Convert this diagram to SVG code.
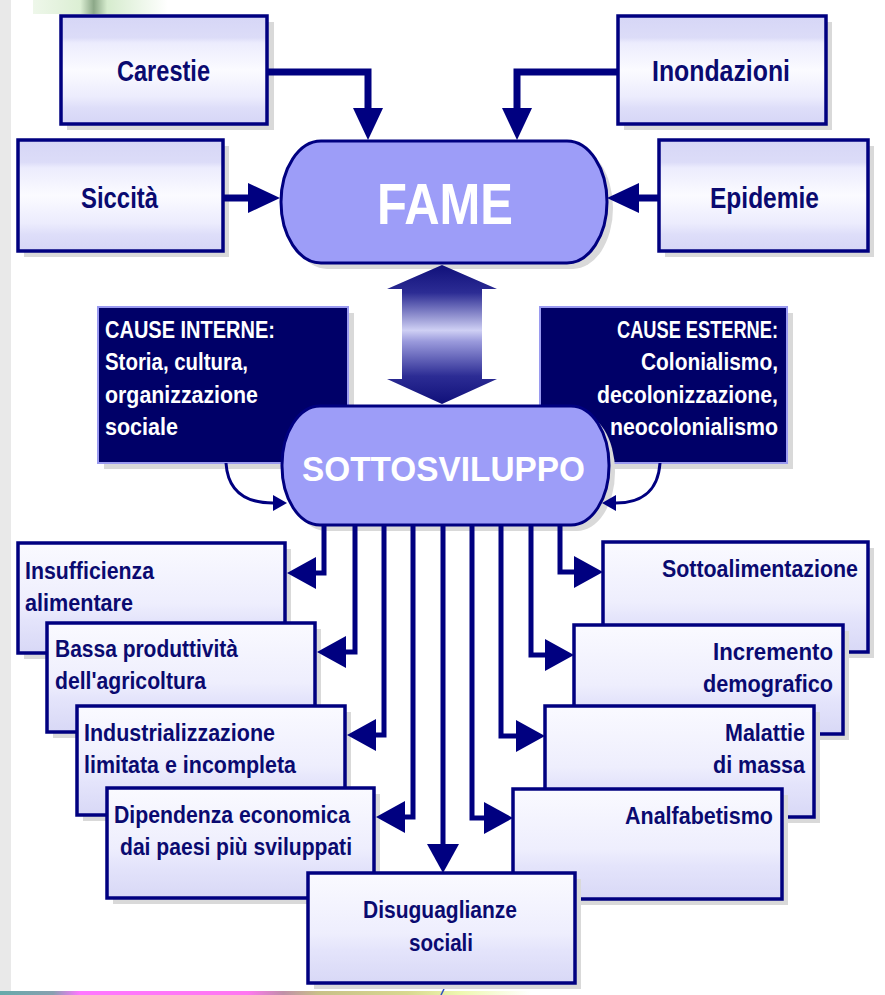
<svg xmlns="http://www.w3.org/2000/svg" width="885" height="995" viewBox="0 0 885 995">
  <defs>
    <linearGradient id="gTop" x1="0" y1="0" x2="0" y2="1">
      <stop offset="0" stop-color="#d6d6f6"/>
      <stop offset="0.2" stop-color="#dcdcf8"/>
      <stop offset="0.25" stop-color="#ececfd"/>
      <stop offset="0.5" stop-color="#fbfbff"/>
      <stop offset="0.75" stop-color="#ececfd"/>
      <stop offset="0.85" stop-color="#dedef9"/>
      <stop offset="1" stop-color="#d6d6f6"/>
    </linearGradient>
    <linearGradient id="gLow" x1="0" y1="0" x2="0" y2="1">
      <stop offset="0" stop-color="#fafaff"/>
      <stop offset="0.55" stop-color="#eeeefd"/>
      <stop offset="0.7" stop-color="#e4e4fb"/>
      <stop offset="1" stop-color="#d8d8f6"/>
    </linearGradient>
    <linearGradient id="gArrow" gradientUnits="userSpaceOnUse" x1="0" y1="265" x2="0" y2="404">
      <stop offset="0" stop-color="#10107a"/>
      <stop offset="0.2" stop-color="#2c2c94"/>
      <stop offset="0.47" stop-color="#cfd0f4"/>
      <stop offset="0.55" stop-color="#9a9adc"/>
      <stop offset="0.8" stop-color="#2c2c94"/>
      <stop offset="1" stop-color="#10107a"/>
    </linearGradient>
    <linearGradient id="gStrip" x1="0" y1="0" x2="1" y2="0">
      <stop offset="0" stop-color="#66aaaa"/>
      <stop offset="0.06" stop-color="#88a0b0"/>
      <stop offset="0.09" stop-color="#ff77ff"/>
      <stop offset="0.28" stop-color="#ff77f0"/>
      <stop offset="0.32" stop-color="#c090a8"/>
      <stop offset="0.36" stop-color="#c8c088"/>
      <stop offset="0.46" stop-color="#d8d890"/>
      <stop offset="0.52" stop-color="#eef8b0"/>
      <stop offset="0.6" stop-color="#ffffff"/>
      <stop offset="1" stop-color="#ffffff"/>
    </linearGradient>
    <linearGradient id="gLeaf" x1="0" y1="0" x2="1" y2="0">
      <stop offset="0" stop-color="#eef7ea"/>
      <stop offset="0.35" stop-color="#dcefd4"/>
      <stop offset="0.45" stop-color="#8ca888"/>
      <stop offset="0.55" stop-color="#d6ecce"/>
      <stop offset="1" stop-color="#ffffff"/>
    </linearGradient>
    <marker id="ahBig" viewBox="0 0 32 30" refX="0" refY="15" markerWidth="32" markerHeight="30" markerUnits="userSpaceOnUse" orient="auto">
      <path d="M0,0 L32,15 L0,30 z" fill="#000080"/>
    </marker>
    <marker id="ah" viewBox="0 0 29 32" refX="0" refY="16" markerWidth="29" markerHeight="32" markerUnits="userSpaceOnUse" orient="auto">
      <path d="M0,0 L29,16 L0,32 z" fill="#000080"/>
    </marker>
    <marker id="ahSmall" viewBox="0 0 14 16" refX="0" refY="8" markerWidth="14" markerHeight="16" markerUnits="userSpaceOnUse" orient="auto">
      <path d="M0,0 L14,8 L0,16 z" fill="#000080"/>
    </marker>
  </defs>
  <style>
    .shadow { fill: #d9d9d9; }
    .boxT { fill: url(#gTop); stroke: #000080; stroke-width: 3.5; }
    .boxL { fill: url(#gLow); stroke: #000080; stroke-width: 3.5; }
    .dark { fill: #000068; stroke: #9a9af0; stroke-width: 2; }
    .pill { fill: #9d9df8; stroke: #000080; stroke-width: 3; }
    text { font-family: "Liberation Sans Narrow", "Liberation Sans", Arial, sans-serif; font-weight: bold; }
    .t { fill: #0a0a70; font-size: 29px; }
    .s { fill: #0a0a70; font-size: 23px; }
    .w { fill: #ffffff; font-size: 23px; }
    .big { fill: #ffffff; }
    .conn { fill: none; stroke: #000080; stroke-linejoin: miter; }
    .c1 { stroke-width: 7; }
    .c2 { stroke-width: 5; }
    .c3 { stroke-width: 3; }
  </style>

  <rect x="0" y="0" width="885" height="995" fill="#ffffff"/>
  <rect x="0" y="0" width="11" height="991" fill="#e9e9e9"/>
  <rect x="33" y="0" width="135" height="14" fill="url(#gLeaf)"/>
  <rect x="0" y="991" width="885" height="4" fill="url(#gStrip)"/>
  <path d="M441,995 L444,989" stroke="#3050c0" stroke-width="1.5"/>

  <g id="carestie">
    <rect class="shadow" x="67" y="22" width="207" height="108"/>
    <rect class="boxT" x="61" y="16" width="206" height="108"/>
    <text class="t" x="117" y="81" textLength="93" lengthAdjust="spacingAndGlyphs">Carestie</text>
  </g>
  <g id="inondazioni">
    <rect class="shadow" x="624" y="22" width="208" height="108"/>
    <rect class="boxT" x="618" y="16" width="208" height="108"/>
    <text class="t" x="652" y="81" textLength="138" lengthAdjust="spacingAndGlyphs">Inondazioni</text>
  </g>
  <g id="siccita">
    <rect class="shadow" x="24" y="146" width="205" height="111"/>
    <rect class="boxT" x="18" y="140" width="205" height="111"/>
    <text class="t" x="81" y="208" textLength="77" lengthAdjust="spacingAndGlyphs">Siccità</text>
  </g>
  <g id="epidemie">
    <rect class="shadow" x="665" y="146" width="209" height="111"/>
    <rect class="boxT" x="659" y="140" width="209" height="111"/>
    <text class="t" x="710" y="208" textLength="109" lengthAdjust="spacingAndGlyphs">Epidemie</text>
  </g>
  <g id="fame">
    <rect class="shadow" x="287" y="147" width="326" height="122" rx="40" ry="61"/>
    <rect class="pill" x="281" y="141" width="326" height="122" rx="40" ry="61"/>
    <text class="big" x="377" y="224" font-size="57" textLength="136" lengthAdjust="spacingAndGlyphs">FAME</text>
  </g>

  <g id="cause-interne">
    <rect class="shadow" x="104" y="313" width="250" height="156"/>
    <rect class="dark" x="98" y="307" width="250" height="156"/>
    <text class="w" x="105" y="338" textLength="170" lengthAdjust="spacingAndGlyphs">CAUSE INTERNE:</text>
    <text class="w" x="105" y="370" textLength="143" lengthAdjust="spacingAndGlyphs">Storia, cultura,</text>
    <text class="w" x="105" y="403" textLength="153" lengthAdjust="spacingAndGlyphs">organizzazione</text>
    <text class="w" x="105" y="435" textLength="73" lengthAdjust="spacingAndGlyphs">sociale</text>
  </g>
  <g id="cause-esterne">
    <rect class="shadow" x="546" y="313" width="247" height="156"/>
    <rect class="dark" x="540" y="307" width="247" height="156"/>
    <text class="w" x="617" y="338" textLength="161" lengthAdjust="spacingAndGlyphs">CAUSE ESTERNE:</text>
    <text class="w" x="641" y="370" textLength="137" lengthAdjust="spacingAndGlyphs">Colonialismo,</text>
    <text class="w" x="597" y="403" textLength="181" lengthAdjust="spacingAndGlyphs">decolonizzazione,</text>
    <text class="w" x="610" y="435" textLength="168" lengthAdjust="spacingAndGlyphs">neocolonialismo</text>
  </g>

  <g id="double-arrow">
    <polygon points="442,265 497,289 482,289 482,379 497,379 442,404 387,379 402,379 402,289 387,289" fill="url(#gArrow)"/>
  </g>

  <g id="sottosviluppo">
    <rect class="shadow" x="288" y="412" width="327" height="119" rx="38" ry="59"/>
    <rect class="pill" x="282" y="406" width="327" height="119" rx="38" ry="59"/>
    <text class="big" x="302" y="481" font-size="35" textLength="283" lengthAdjust="spacingAndGlyphs">SOTTOSVILUPPO</text>
  </g>

  <g id="insufficienza">
    <rect class="shadow" x="24" y="549" width="267" height="110"/>
    <rect class="boxL" x="18" y="543" width="267" height="110"/>
    <text class="s" x="25" y="579" textLength="129" lengthAdjust="spacingAndGlyphs">Insufficienza</text>
    <text class="s" x="25" y="611" textLength="108" lengthAdjust="spacingAndGlyphs">alimentare</text>
  </g>
  <g id="bassa">
    <rect class="shadow" x="53" y="629" width="268" height="109"/>
    <rect class="boxL" x="47" y="623" width="268" height="109"/>
    <text class="s" x="55" y="657" textLength="183" lengthAdjust="spacingAndGlyphs">Bassa produttività</text>
    <text class="s" x="55" y="689" textLength="151" lengthAdjust="spacingAndGlyphs">dell'agricoltura</text>
  </g>
  <g id="industrializzazione">
    <rect class="shadow" x="83" y="712" width="268" height="109"/>
    <rect class="boxL" x="77" y="706" width="268" height="109"/>
    <text class="s" x="84" y="741" textLength="191" lengthAdjust="spacingAndGlyphs">Industrializzazione</text>
    <text class="s" x="84" y="773" textLength="212" lengthAdjust="spacingAndGlyphs">limitata e incompleta</text>
  </g>
  <g id="dipendenza">
    <rect class="shadow" x="113" y="794" width="267" height="110"/>
    <rect class="boxL" x="107" y="788" width="267" height="110"/>
    <text class="s" x="114" y="823" textLength="236" lengthAdjust="spacingAndGlyphs">Dipendenza economica</text>
    <text class="s" x="120" y="855" textLength="232" lengthAdjust="spacingAndGlyphs">dai paesi più sviluppati</text>
  </g>

  <g id="sottoalimentazione">
    <rect class="shadow" x="609" y="548" width="265" height="110"/>
    <rect class="boxL" x="603" y="542" width="265" height="110"/>
    <text class="s" x="662" y="577" textLength="196" lengthAdjust="spacingAndGlyphs">Sottoalimentazione</text>
  </g>
  <g id="incremento">
    <rect class="shadow" x="580" y="631" width="269" height="109"/>
    <rect class="boxL" x="574" y="625" width="269" height="109"/>
    <text class="s" x="713" y="660" textLength="120" lengthAdjust="spacingAndGlyphs">Incremento</text>
    <text class="s" x="703" y="692" textLength="130" lengthAdjust="spacingAndGlyphs">demografico</text>
  </g>
  <g id="malattie">
    <rect class="shadow" x="551" y="712" width="269" height="111"/>
    <rect class="boxL" x="545" y="706" width="269" height="111"/>
    <text class="s" x="725" y="741" textLength="80" lengthAdjust="spacingAndGlyphs">Malattie</text>
    <text class="s" x="713" y="773" textLength="92" lengthAdjust="spacingAndGlyphs">di massa</text>
  </g>
  <g id="analfabetismo">
    <rect class="shadow" x="519" y="795" width="269" height="110"/>
    <rect class="boxL" x="513" y="789" width="269" height="110"/>
    <text class="s" x="625" y="824" textLength="148" lengthAdjust="spacingAndGlyphs">Analfabetismo</text>
  </g>
  <g id="disuguaglianze">
    <rect class="shadow" x="314" y="879" width="267" height="110"/>
    <rect class="boxL" x="308" y="873" width="267" height="110"/>
    <text class="s" x="363" y="918" textLength="154" lengthAdjust="spacingAndGlyphs">Disuguaglianze</text>
    <text class="s" x="409" y="951" textLength="64" lengthAdjust="spacingAndGlyphs">sociali</text>
  </g>

  <g id="connectors">
    <path class="conn c1" d="M267,72 H368 V108" marker-end="url(#ahBig)"/>
    <path class="conn c1" d="M618,72 H517 V108" marker-end="url(#ahBig)"/>
    <path class="conn c1" d="M223,198 H248" marker-end="url(#ahBig)"/>
    <path class="conn c1" d="M659,198 H639" marker-end="url(#ahBig)"/>

    <path class="conn c3" d="M226,463 C228,494 248,503 273,503" marker-end="url(#ahSmall)"/>
    <path class="conn c3" d="M660,463 C658,494 638,503 616,503" marker-end="url(#ahSmall)"/>

    <path class="conn c2" d="M324,524 V573 H316" marker-end="url(#ah)"/>
    <path class="conn c2" d="M355,524 V652 H346" marker-end="url(#ah)"/>
    <path class="conn c2" d="M384,524 V735 H376" marker-end="url(#ah)"/>
    <path class="conn c2" d="M413,524 V817 H405" marker-end="url(#ah)"/>
    <path class="conn c2" d="M443,524 V844" marker-end="url(#ah)"/>
    <path class="conn c2" d="M472,524 V818 H484" marker-end="url(#ah)"/>
    <path class="conn c2" d="M501,524 V736 H516" marker-end="url(#ah)"/>
    <path class="conn c2" d="M531,524 V655 H545" marker-end="url(#ah)"/>
    <path class="conn c2" d="M560,524 V572 H574" marker-end="url(#ah)"/>
  </g>
</svg>
